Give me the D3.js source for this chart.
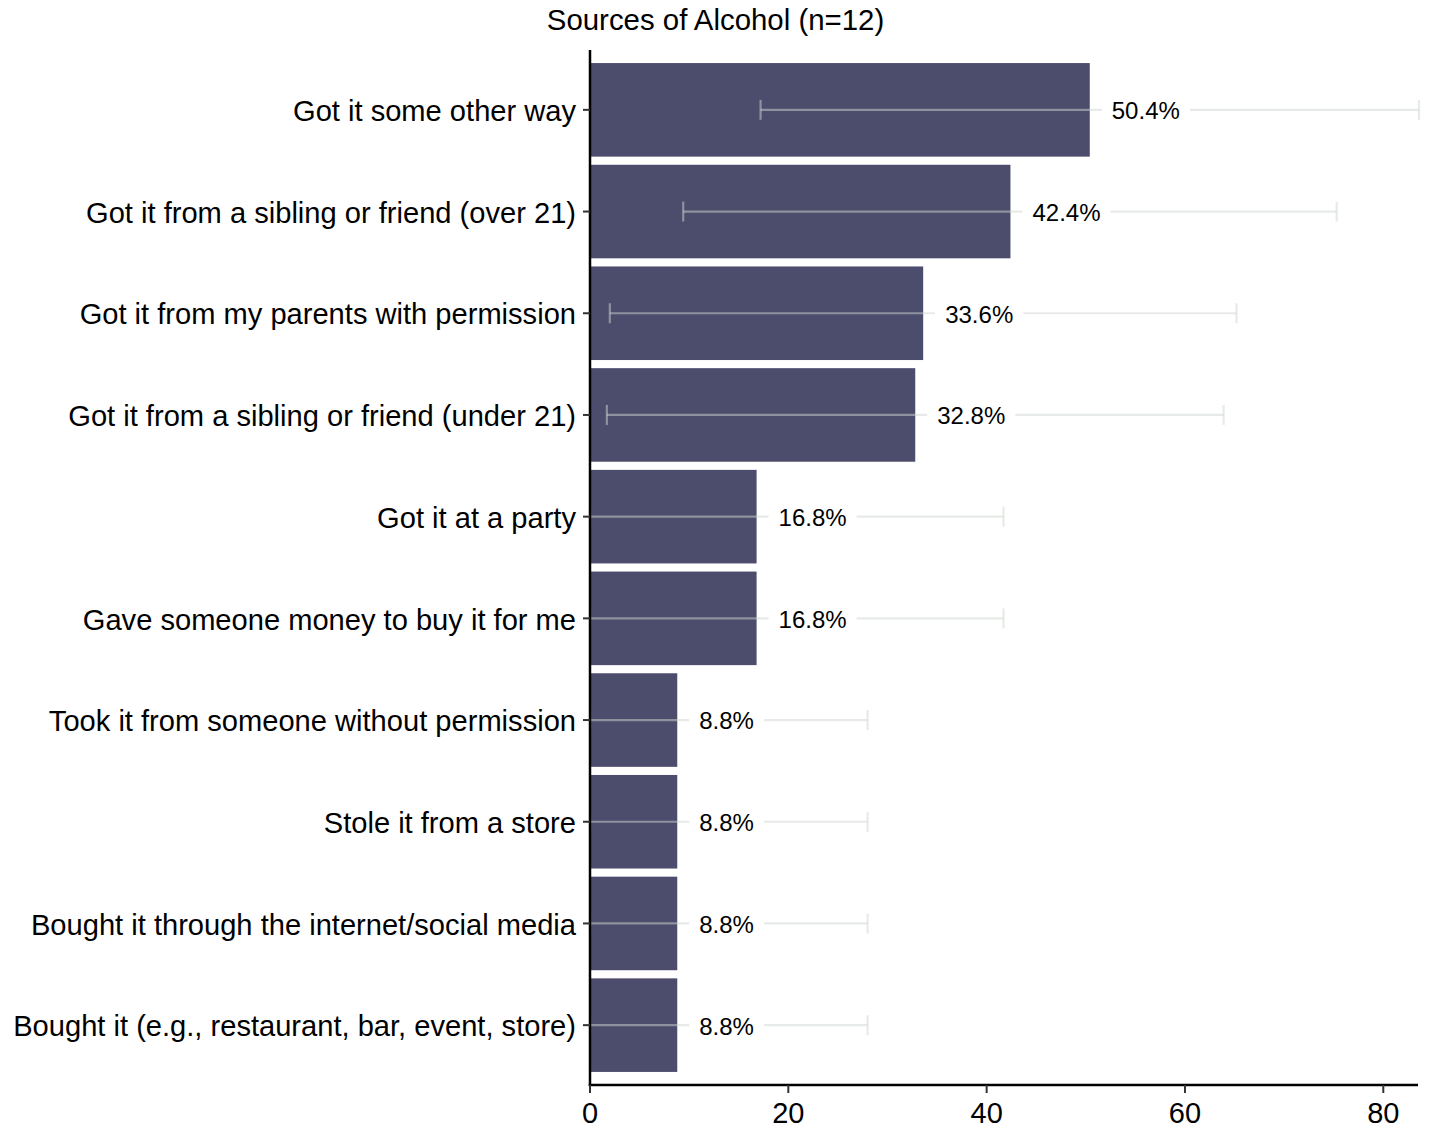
<!DOCTYPE html>
<html>
<head>
<meta charset="utf-8">
<script src="https://cdn.jsdelivr.net/npm/d3@7/dist/d3.min.js"></script>
<style>
  html, body { margin: 0; padding: 0; background: #fff; }
  svg { display: block; font-family: "Liberation Sans", Arial, Helvetica, sans-serif; }
</style>
</head>
<body>
<svg id="chart" width="1429" height="1128"></svg>
<script>
const title = "Sources of Alcohol (n=12)";
const categories = [
  "Got it some other way",
  "Got it from a sibling or friend (over 21)",
  "Got it from my parents with permission",
  "Got it from a sibling or friend (under 21)",
  "Got it at a party",
  "Gave someone money to buy it for me",
  "Took it from someone without permission",
  "Stole it from a store",
  "Bought it through the internet/social media",
  "Bought it (e.g., restaurant, bar, event, store)"
];
const values = [50.4, 42.4, 33.6, 32.8, 16.8, 16.8, 8.8, 8.8, 8.8, 8.8];
const lowerCI = [17.2, 9.4, 2.0, 1.7, 0, 0, 0, 0, 0, 0];
const upperCI = [83.6, 75.3, 65.2, 63.9, 41.7, 41.7, 28.0, 28.0, 28.0, 28.0];
const xTicks = [0, 20, 40, 60, 80];

(function () {
const svg = d3.select("#chart");
const pLeft = 590, pRight = 1418, pTop = 50, pBottom = 1085;

const x = d3.scaleLinear().domain([0, 83.5]).range([pLeft, pRight]);
const y = d3.scaleBand().domain(categories).range([59, 1076]).paddingInner(0.08).paddingOuter(0.04);

const data = categories.map((c, i) => ({ c, v: values[i], lo: lowerCI[i], hi: upperCI[i] }));

// title
svg.append("text").attr("x", 715.5).attr("y", 30).attr("text-anchor", "middle")
  .attr("font-size", 29.4).attr("fill", "#000").text(title);

// bars
svg.append("g").selectAll("rect").data(data).join("rect")
  .attr("x", x(0)).attr("y", d => y(d.c))
  .attr("width", d => x(d.v) - x(0)).attr("height", y.bandwidth())
  .attr("fill", "#4c4c6d");

// error bars
const eb = svg.append("g").attr("stroke", "#d0d8d0").attr("stroke-opacity", 0.5).attr("stroke-width", 2.2).attr("fill", "none");
data.forEach(d => {
  const cy = y(d.c) + y.bandwidth() / 2;
  eb.append("line").attr("x1", x(d.lo)).attr("x2", x(d.hi)).attr("y1", cy).attr("y2", cy);
  eb.append("line").attr("x1", x(d.lo)).attr("x2", x(d.lo)).attr("y1", cy - 10).attr("y2", cy + 10);
  eb.append("line").attr("x1", x(d.hi)).attr("x2", x(d.hi)).attr("y1", cy - 10).attr("y2", cy + 10);
});

// value labels with white boxes
const lg = svg.append("g");
data.forEach(d => {
  const cy = y(d.c) + y.bandwidth() / 2;
  const t = lg.append("text").attr("x", x(d.v) + 22).attr("y", cy + 1).attr("dy", "0.35em")
    .attr("font-size", 24).attr("fill", "#000").text(d.v.toFixed(1) + "%");
  const bb = t.node().getBBox();
  lg.insert("rect", "text").attr("x", x(d.v) + 12).attr("y", cy - 16)
    .attr("width", bb.width + 20).attr("height", 32).attr("fill", "#fff");
});

// y axis
const yAxis = svg.append("g");
yAxis.append("line").attr("x1", pLeft).attr("x2", pLeft).attr("y1", pTop).attr("y2", pBottom + 1)
  .attr("stroke", "#000").attr("stroke-width", 2.5);
categories.forEach(c => {
  const cy = y(c) + y.bandwidth() / 2;
  yAxis.append("line").attr("x1", pLeft - 7).attr("x2", pLeft).attr("y1", cy).attr("y2", cy)
    .attr("stroke", "#333").attr("stroke-width", 2);
  yAxis.append("text").attr("x", 576).attr("y", cy + 1).attr("dy", "0.35em").attr("text-anchor", "end")
    .attr("font-size", 29.1).attr("fill", "#000").text(c);
});

// x axis
const xAxis = svg.append("g");
xAxis.append("line").attr("x1", pLeft - 1.25).attr("x2", pRight).attr("y1", pBottom).attr("y2", pBottom)
  .attr("stroke", "#000").attr("stroke-width", 2.5);
xTicks.forEach(t => {
  xAxis.append("line").attr("x1", x(t)).attr("x2", x(t)).attr("y1", pBottom).attr("y2", pBottom + 8)
    .attr("stroke", "#333").attr("stroke-width", 2);
  xAxis.append("text").attr("x", x(t)).attr("y", 1123).attr("text-anchor", "middle")
    .attr("font-size", 29).attr("fill", "#000").text(t);
});
})();
</script>
</body>
</html>
